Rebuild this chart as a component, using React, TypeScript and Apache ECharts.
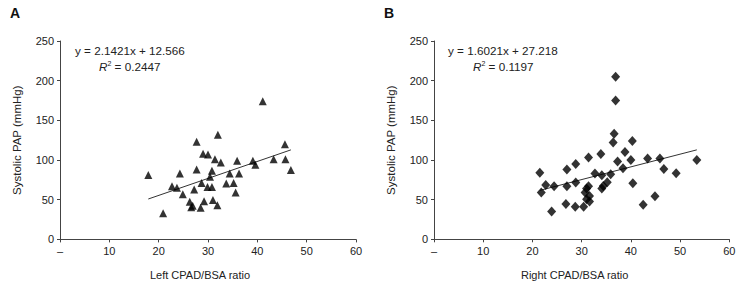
import React, { useEffect, useRef } from "react";
import * as echarts from "echarts";

// Left panel: CPAD/BSA ratio vs systolic PAP
const leftRatio = [17.9, 20.9, 22.7, 23.7, 24.3, 24.9, 26.3, 26.6, 26.9, 27.2, 27.7, 27.7, 28.5, 28.7, 29.0, 29.2, 29.9, 30.0, 30.4, 30.8, 30.8, 31.0, 31.4, 31.9, 32.0, 32.6, 33.7, 34.4, 35.2, 35.6, 35.9, 36.3, 39.1, 39.6, 41.1, 43.3, 45.6, 45.7, 46.8];
const leftPap = [81, 33, 67, 65, 83, 57, 47.5, 40.5, 42.5, 63, 123, 88, 40, 71, 108, 48, 66, 107, 79, 66, 86.5, 49.5, 101, 43, 132, 97, 70.5, 83, 71, 59, 99, 83, 99, 94, 174, 101, 120, 101, 87.5];

// Right panel
const rightRatio = [21.5, 21.8, 22.7, 23.9, 24.4, 26.8, 27.0, 27.0, 28.7, 28.8, 28.8, 30.4, 30.7, 31.0, 31.4, 31.6, 31.0, 31.6, 31.4, 32.7, 33.9, 34.1, 34.1, 34.4, 35.2, 35.9, 36.4, 36.6, 36.9, 36.9, 37.3, 38.4, 38.8, 40.0, 40.3, 40.4, 42.5, 43.4, 44.9, 45.9, 46.7, 49.2, 53.4];
const rightPap = [84, 59, 68.5, 35, 67, 44.5, 67, 88, 41, 71.5, 95, 41, 59, 64, 67, 54.5, 50.5, 47.5, 103, 83, 107.5, 80.7, 64.2, 67.1, 72, 82, 122, 133, 205, 175, 98, 89.5, 110, 100, 124, 70.7, 43.5, 102, 54.4, 102, 88.6, 83.3, 100];

// Linear fits (slope, intercept, R²)
const leftFit = [2.1421, 12.566, 0.2447];
const rightFit = [1.6021, 27.218, 0.1197];

const xTicks = [0, 10, 20, 30, 40, 50, 60];
const yTicks = [0, 50, 100, 150, 200, 250];

const FONT = 'Arial, "Liberation Sans", sans-serif';
const INK = "#222";

function pairs(xs: number[], ys: number[]) {
  return xs.map((x, i) => [x, ys[i]]);
}

function fitLine(xs: number[], fit: number[]) {
  const lo = Math.min(...xs);
  const hi = Math.max(...xs);
  return [
    [lo, fit[0] * lo + fit[1]],
    [hi, fit[0] * hi + fit[1]],
  ];
}

function xAxis(gridIndex: number, name: string, pad: number) {
  return {
    type: "value",
    gridIndex,
    min: xTicks[0],
    max: xTicks[xTicks.length - 1],
    interval: 10,
    name,
    nameLocation: "middle",
    nameGap: 30,
    nameTextStyle: { fontFamily: FONT, fontSize: 11, color: INK, padding: [0, pad, 0, 0] },
    axisLine: { show: true, lineStyle: { color: "#444", width: 1 } },
    axisTick: { show: true, length: 3, lineStyle: { color: "#444" } },
    axisLabel: {
      fontFamily: FONT,
      fontSize: 11,
      color: INK,
      margin: 6,
      formatter: (v: number) => (v === 0 ? "–" : String(v)),
    },
    splitLine: { show: false },
  };
}

function yAxis(gridIndex: number) {
  return {
    type: "value",
    gridIndex,
    min: yTicks[0],
    max: yTicks[yTicks.length - 1],
    interval: 50,
    name: "Systolic PAP (mmHg)",
    nameLocation: "middle",
    nameGap: 37,
    nameTextStyle: { fontFamily: FONT, fontSize: 11.5, color: INK },
    axisLine: { show: true, lineStyle: { color: "#444", width: 1 } },
    axisTick: { show: true, length: 3, lineStyle: { color: "#444" } },
    axisLabel: { fontFamily: FONT, fontSize: 11, color: INK, margin: 6 },
    splitLine: { show: false },
  };
}

function eqText(x: number, y: number, fit: number[], indent: number) {
  const sign = fit[1] >= 0 ? "+" : "-";
  return [
    {
      type: "text",
      x,
      y,
      style: {
        text: `y = ${fit[0].toFixed(4)}x ${sign} ${Math.abs(fit[1]).toFixed(3)}`,
        font: `11.7px ${FONT}`,
        fill: INK,
        verticalAlign: "middle",
      },
    },
    {
      type: "text",
      x: x + indent,
      y: y + 16,
      style: {
        text: `{i|R}{s|2}{n| = ${fit[2].toFixed(4)}}`,
        verticalAlign: "middle",
        fill: INK,
        rich: {
          i: { fontFamily: FONT, fontSize: 11.7, fontStyle: "italic", fill: INK },
          s: { fontFamily: FONT, fontSize: 7, fill: INK, verticalAlign: "top", padding: [0, 0, 6, 0] },
          n: { fontFamily: FONT, fontSize: 11.7, fill: INK },
        },
      },
    },
  ];
}

export default function App() {
  const ref = useRef<HTMLDivElement>(null);

  useEffect(() => {
    if (!ref.current) return;
    const chart = echarts.init(ref.current, null, { renderer: "svg" });
    chart.setOption({
      animation: false,
      backgroundColor: "#fff",
      grid: [
        { left: 60, right: 384, top: 41, bottom: 46.6 },
        { left: 434, right: 10.7, top: 41, bottom: 46.7 },
      ],
      xAxis: [xAxis(0, "Left CPAD/BSA ratio", 16), xAxis(1, "Right CPAD/BSA ratio", 14)],
      yAxis: [yAxis(0), yAxis(1)],
      series: [
        {
          type: "line",
          xAxisIndex: 0,
          yAxisIndex: 0,
          data: fitLine(leftRatio, leftFit),
          symbol: "none",
          lineStyle: { color: "#333", width: 1 },
          z: 1,
        },
        {
          type: "scatter",
          xAxisIndex: 0,
          yAxisIndex: 0,
          data: pairs(leftRatio, leftPap),
          symbol: "triangle",
          symbolSize: [8, 8],
          itemStyle: { color: "#000" },
          z: 2,
        },
        {
          type: "line",
          xAxisIndex: 1,
          yAxisIndex: 1,
          data: fitLine(rightRatio, rightFit),
          symbol: "none",
          lineStyle: { color: "#333", width: 1 },
          z: 1,
        },
        {
          type: "scatter",
          xAxisIndex: 1,
          yAxisIndex: 1,
          data: pairs(rightRatio, rightPap),
          symbol: "diamond",
          symbolSize: [9, 10],
          itemStyle: { color: "#000" },
          z: 2,
        },
      ],
      graphic: [
        { type: "text", x: 10, y: 6, style: { text: "A", font: `bold 14px ${FONT}`, fill: "#111" } },
        { type: "text", x: 384, y: 6, style: { text: "B", font: `bold 14px ${FONT}`, fill: "#111" } },
        ...eqText(75, 50, leftFit, 24),
        ...eqText(448, 50, rightFit, 25),
      ],
    });
    return () => chart.dispose();
  }, []);

  return (
    <div
      ref={ref}
      style={{ position: "fixed", left: 0, top: 0, width: 740, height: 286 }}
    />
  );
}
